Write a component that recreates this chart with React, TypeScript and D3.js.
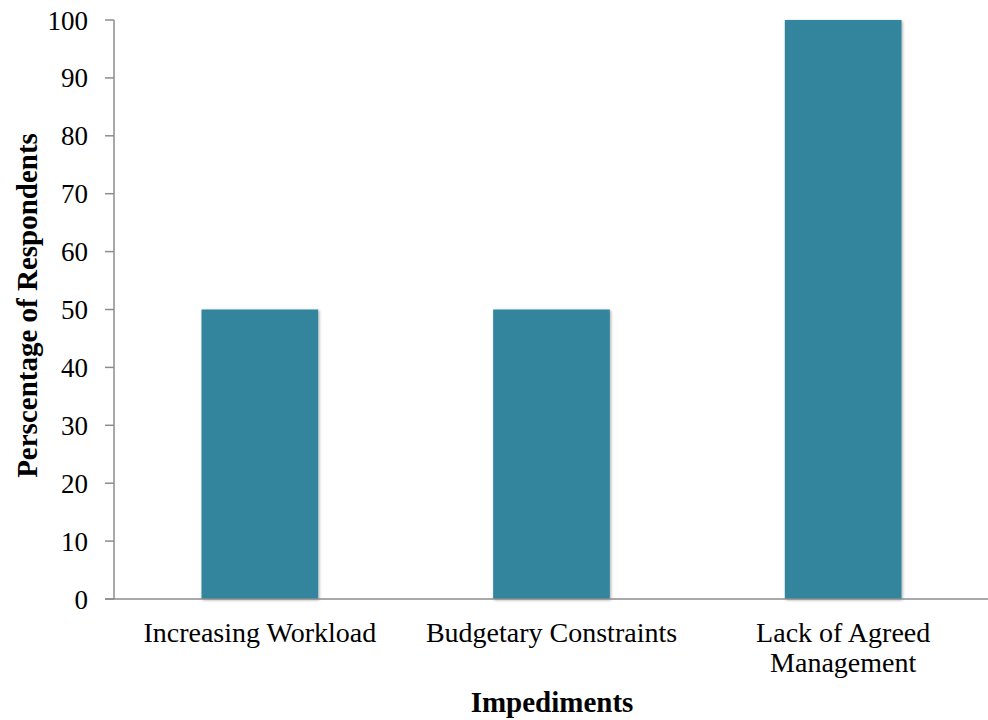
import React from "react";
import * as d3 from "d3";

const categories: string[][] = [
  ["Increasing Workload"],
  ["Budgetary Constraints"],
  ["Lack of Agreed", "Management"],
];
const values: number[] = [50, 50, 100];
const yTicks: number[] = [0, 10, 20, 30, 40, 50, 60, 70, 80, 90, 100];

const W = 988;
const H = 720;
const margin = { left: 114, right: -1, top: 20, bottom: 121 };
const FONT = "'Liberation Serif', 'DejaVu Serif', serif";
const BAR = "#31859C";

export default function App() {
  const x = d3
    .scaleBand<number>()
    .domain(values.map((_, i) => i))
    .range([margin.left, W - margin.right])
    .paddingInner(0.6)
    .paddingOuter(0.3);
  const y = d3.scaleLinear().domain([0, 100]).range([H - margin.bottom, margin.top]);
  const x0 = margin.left;
  const y0 = y(0);

  return (
    <svg
      width={W}
      height={H}
      style={{ position: "absolute", left: 0, top: 0, background: "#fff" }}
      fontFamily={FONT}
    >
      <defs>
        <filter id="barShadow" x="-10%" y="-10%" width="120%" height="120%">
          <feDropShadow dx="1" dy="1" stdDeviation="1.5" floodColor="#000" floodOpacity="0.35" />
        </filter>
      </defs>

      {values.map((v, i) => (
        <rect
          key={i}
          x={x(i)}
          y={y(v)}
          width={x.bandwidth()}
          height={y0 - y(v)}
          fill={BAR}
          filter="url(#barShadow)"
        />
      ))}

      {/* y axis */}
      <line x1={x0} x2={x0} y1={y(100)} y2={y0} stroke="#8c8c8c" strokeWidth={1.5} />
      {yTicks.map((t) => (
        <g key={t}>
          <line x1={x0 - 9} x2={x0} y1={y(t)} y2={y(t)} stroke="#8c8c8c" strokeWidth={1.5} />
          <text x={88} y={y(t) + 9.5} textAnchor="end" fontSize={27} fill="#000">
            {t}
          </text>
        </g>
      ))}

      {/* x axis */}
      <line x1={x0 - 9} x2={W} y1={y0} y2={y0} stroke="#8c8c8c" strokeWidth={1.5} />
      {categories.map((lines, i) => {
        const cx = (x(i) ?? 0) + x.bandwidth() / 2;
        return (
          <text key={i} x={cx} y={642} textAnchor="middle" fontSize={28} fill="#000">
            {lines.map((l, j) => (
              <tspan key={j} x={cx} dy={j === 0 ? 0 : 30}>
                {l}
              </tspan>
            ))}
          </text>
        );
      })}

      <text
        x={552}
        y={712}
        textAnchor="middle"
        fontSize={29}
        fontWeight="bold"
        fill="#000"
      >
        Impediments
      </text>
      <text
        transform={`translate(37, 305.5) rotate(-90)`}
        textAnchor="middle"
        fontSize={29}
        fontWeight="bold"
        fill="#000"
      >
        Perscentage of Respondents
      </text>
    </svg>
  );
}
